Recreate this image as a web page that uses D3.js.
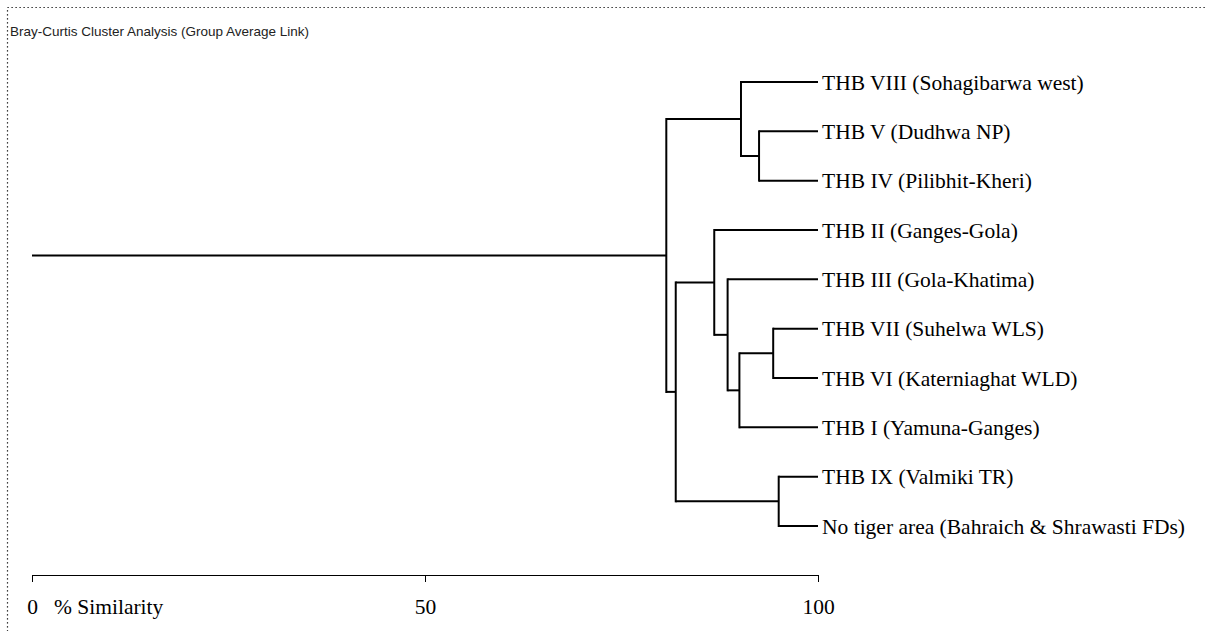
<!DOCTYPE html>
<html>
<head>
<meta charset="utf-8">
<script src="https://cdn.jsdelivr.net/npm/d3@7"></script>
<style>
  body { margin: 0; background: #fff; }
</style>
</head>
<body>
<svg id="chart"></svg>
<script>
// leaves, top to bottom
const leaves = [
    "THB VIII (Sohagibarwa west)",
    "THB V (Dudhwa NP)",
    "THB IV (Pilibhit-Kheri)",
    "THB II (Ganges-Gola)",
    "THB III (Gola-Khatima)",
    "THB VII (Suhelwa WLS)",
    "THB VI (Katerniaghat WLD)",
    "THB I (Yamuna-Ganges)",
    "THB IX (Valmiki TR)",
    "No tiger area (Bahraich & Shrawasti FDs)"
];

// [left, right, % similarity]; "#n" refers to merge n
const merges = [
    ["THB V (Dudhwa NP)", "THB IV (Pilibhit-Kheri)", 92.5],
    ["THB VIII (Sohagibarwa west)", "#0", 90.2],
    ["THB VII (Suhelwa WLS)", "THB VI (Katerniaghat WLD)", 94.3],
    ["#2", "THB I (Yamuna-Ganges)", 90.0],
    ["THB III (Gola-Khatima)", "#3", 88.5],
    ["THB II (Ganges-Gola)", "#4", 86.8],
    ["THB IX (Valmiki TR)", "No tiger area (Bahraich & Shrawasti FDs)", 95.0],
    ["#5", "#6", 81.9],
    ["#1", "#7", 80.7]
];

const axisTicks = [0, 50, 100];
const axisTitle = "% Similarity";
const chartTitle = "Bray-Curtis Cluster Analysis (Group Average Link)";

const width = 1205, height = 631;
const serif = "'Liberation Serif', 'Times New Roman', serif";

const svg = d3.select("#chart")
    .attr("width", width)
    .attr("height", height);

// dotted frame
svg.append("rect")
    .attr("x", 7.5).attr("y", 7.5)
    .attr("width", width).attr("height", height)
    .attr("fill", "none")
    .attr("stroke", "#000")
    .attr("stroke-width", 1.2)
    .attr("stroke-dasharray", "1.2,2.8");

svg.append("text")
    .attr("x", 10).attr("y", 36)
    .style("font-family", "'Liberation Sans', Arial, sans-serif")
    .style("font-size", "13.5px")
    .attr("fill", "#222")
    .text(chartTitle);

const x = d3.scaleLinear().domain([0, 100]).range([32, 818]);
const y = d3.scalePoint().domain(leaves).range([82, 526]);

// build the tree from the merge list
const built = merges.map(() => null);
const toNode = key => key.startsWith("#") ? built[+key.slice(1)] : { name: key, sim: 100 };
merges.forEach((m, i) => {
    built[i] = { name: "#" + i, sim: m[2], children: [toNode(m[0]), toNode(m[1])] };
});
const root = d3.hierarchy(built[built.length - 1]);

root.eachAfter(d => {
    d.px = x(d.data.sim);
    d.py = d.children ? d3.mean(d.children, c => c.py) : y(d.data.name);
});

const g = svg.append("g")
    .attr("fill", "none")
    .attr("stroke", "#000")
    .attr("stroke-width", 2);

// verticals at each join
g.selectAll(".join")
    .data(root.descendants().filter(d => d.children))
    .join("line")
    .attr("class", "join")
    .attr("x1", d => d.px).attr("x2", d => d.px)
    .attr("y1", d => d3.min(d.children, c => c.py) - 1)
    .attr("y2", d => d3.max(d.children, c => c.py) + 1);

// horizontals from parent to child
g.selectAll(".branch")
    .data(root.descendants().filter(d => d.parent))
    .join("line")
    .attr("class", "branch")
    .attr("x1", d => d.parent.px).attr("x2", d => d.px)
    .attr("y1", d => d.py).attr("y2", d => d.py);

// stem of the root
g.append("line")
    .attr("x1", x(0)).attr("x2", root.px)
    .attr("y1", root.py).attr("y2", root.py);

// leaf labels
svg.selectAll(".leaf")
    .data(root.leaves())
    .join("text")
    .attr("class", "leaf")
    .attr("x", d => d.px + 4)
    .attr("y", d => d.py)
    .attr("dy", "0.35em")
    .style("font-family", serif)
    .style("font-size", "21.5px")
    .text(d => d.data.name);

// axis
const axis = svg.append("g")
    .attr("transform", "translate(0,575)")
    .call(d3.axisBottom(x).tickValues(axisTicks).tickSize(7).tickSizeOuter(0).tickPadding(17));
axis.select(".domain").attr("stroke", "#000");
axis.selectAll("text")
    .style("font-family", serif)
    .style("font-size", "21.5px")
    .attr("fill", "#000");

svg.append("text")
    .attr("x", 54).attr("y", 614)
    .style("font-family", serif)
    .style("font-size", "21.5px")
    .text(axisTitle);
</script>
</body>
</html>
